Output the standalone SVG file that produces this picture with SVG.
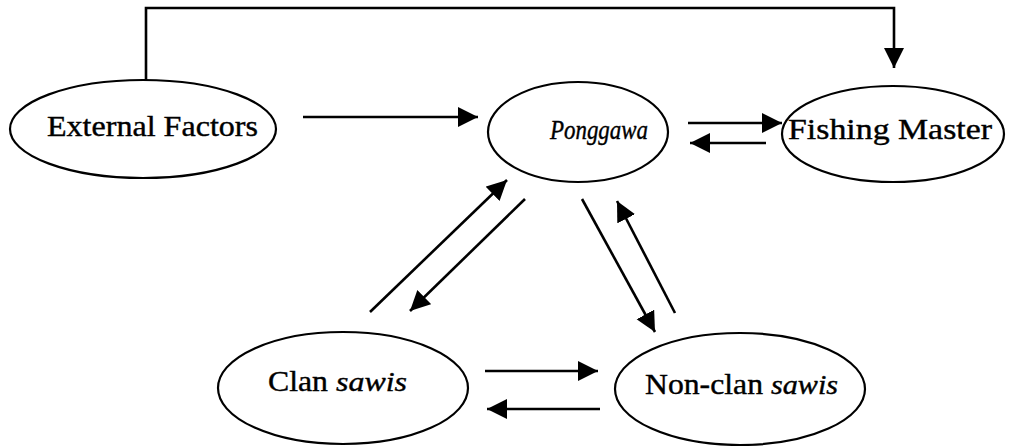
<svg xmlns="http://www.w3.org/2000/svg" width="1020" height="446" viewBox="0 0 1020 446">
<style>
.node ellipse{fill:#fff;stroke:#000;stroke-width:2.2}
.t{font-family:"Liberation Serif","Times New Roman",serif;font-size:30px;fill:#000;stroke:#000;stroke-width:0.4}
.i{font-style:italic;font-size:27px}
.c line,.c path{stroke:#000;stroke-width:2.6;fill:none}
</style>
<defs>
<marker id="ah" markerUnits="userSpaceOnUse" markerWidth="22" markerHeight="22" refX="20" refY="10" orient="auto" viewBox="0 0 22 22">
<path d="M0,0 L20,10 L0,20 z" fill="#000"/>
</marker>
</defs>
<rect width="1020" height="446" fill="#fff"/>
<g class="c">
<path d="M146,80 V8 H894 V68" marker-end="url(#ah)"/>
<line x1="303" y1="117" x2="478" y2="117" marker-end="url(#ah)"/>
<line x1="688" y1="123" x2="782" y2="123" marker-end="url(#ah)"/>
<line x1="766" y1="143" x2="690" y2="143" marker-end="url(#ah)"/>
<line x1="370" y1="312" x2="507" y2="180" marker-end="url(#ah)"/>
<line x1="525" y1="199" x2="410" y2="311" marker-end="url(#ah)"/>
<line x1="582" y1="199" x2="655" y2="332" marker-end="url(#ah)"/>
<line x1="675" y1="313" x2="617" y2="201" marker-end="url(#ah)"/>
<line x1="485" y1="371" x2="598" y2="371" marker-end="url(#ah)"/>
<line x1="600" y1="409" x2="487" y2="409" marker-end="url(#ah)"/>
</g>
<g id="external" class="node">
<ellipse cx="143" cy="129" rx="133" ry="49"/>
<text class="t" x="47" y="136" textLength="211" lengthAdjust="spacingAndGlyphs">External Factors</text>
</g>
<g id="ponggawa" class="node">
<ellipse cx="578" cy="132" rx="90" ry="50"/>
<text class="t i" x="550" y="139" textLength="98" lengthAdjust="spacingAndGlyphs">Ponggawa</text>
</g>
<g id="fishing" class="node">
<ellipse cx="893" cy="134" rx="111" ry="48"/>
<text class="t" x="788" y="139" textLength="204" lengthAdjust="spacingAndGlyphs">Fishing Master</text>
</g>
<g id="clan" class="node">
<ellipse cx="343" cy="388" rx="125" ry="56"/>
<text class="t" x="268" y="391" textLength="60" lengthAdjust="spacingAndGlyphs">Clan</text>
<text class="t i" x="336" y="391" textLength="71" lengthAdjust="spacingAndGlyphs">sawis</text>
</g>
<g id="nonclan" class="node">
<ellipse cx="740" cy="389" rx="125" ry="56"/>
<text class="t" x="645" y="394" textLength="118" lengthAdjust="spacingAndGlyphs">Non-clan</text>
<text class="t i" x="771" y="394" textLength="67" lengthAdjust="spacingAndGlyphs">sawis</text>
</g>
</svg>
